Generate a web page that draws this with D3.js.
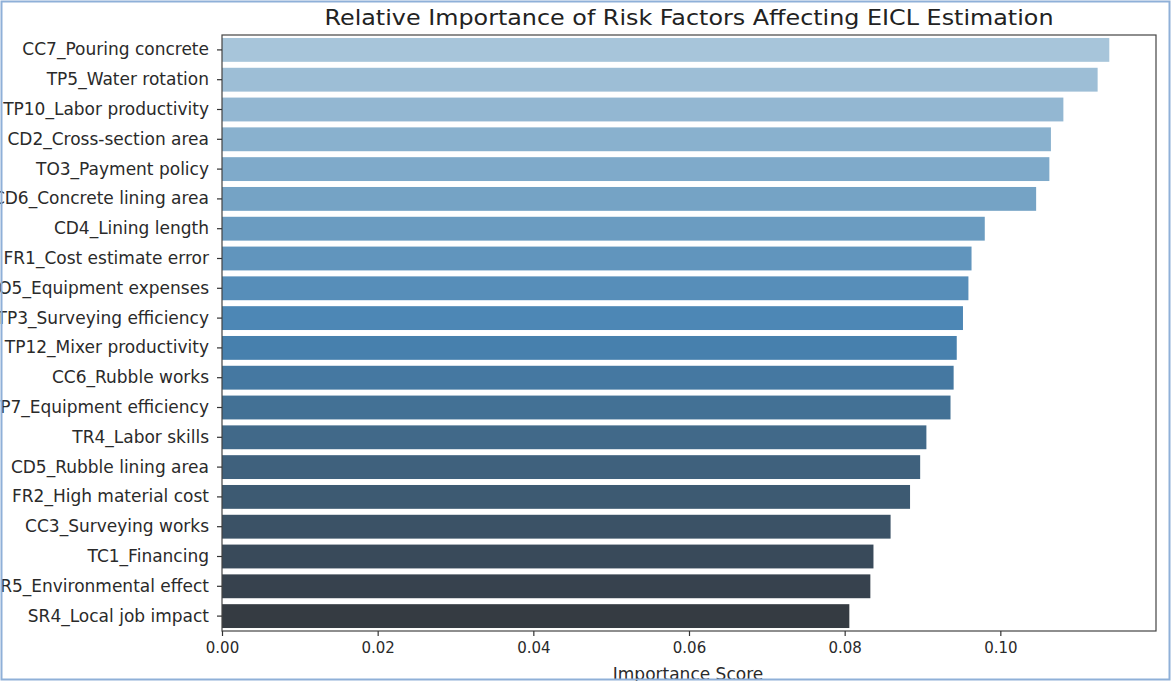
<!DOCTYPE html>
<html>
<head>
<meta charset="utf-8">
<script src="https://cdn.jsdelivr.net/npm/d3@7"></script>
<style>
  html, body { margin: 0; padding: 0; background: #fff; }
  svg { display: block; font-family: "DejaVu Sans", sans-serif; }
</style>
</head>
<body>
<svg id="chart" width="1172" height="683"></svg>
<script>
// factor names, top to bottom
const factors = [
    'CC7_Pouring concrete', 'TP5_Water rotation', 'TP10_Labor productivity',
    'CD2_Cross-section area', 'TO3_Payment policy', 'CD6_Concrete lining area',
    'CD4_Lining length', 'FR1_Cost estimate error', 'TO5_Equipment expenses',
    'TP3_Surveying efficiency', 'TP12_Mixer productivity', 'CC6_Rubble works',
    'TP7_Equipment efficiency', 'TR4_Labor skills', 'CD5_Rubble lining area',
    'FR2_High material cost', 'CC3_Surveying works', 'TC1_Financing',
    'SR5_Environmental effect', 'SR4_Local job impact'
];
// importance scores
const scores = [
    0.1140, 0.1125, 0.1081, 0.1065, 0.1063, 0.1046,
    0.0980, 0.0963, 0.0959, 0.0952, 0.0944, 0.0940,
    0.0936, 0.0905, 0.0897, 0.0884, 0.0859, 0.0837,
    0.0833, 0.0806
];
const xTicks = [0, 0.02, 0.04, 0.06, 0.08, 0.10];

const TITLE = 'Relative Importance of Risk Factors Affecting EICL Estimation';
const X_LABEL = 'Importance Score';

// plot box
const plotLeft = 222, plotRight = 1156, plotTop = 35, plotBottom = 631;

const svg = d3.select('#chart');

// seaborn "Blues_d" like ramp: light blue -> mid blue -> dark gray
const ramp = d3.piecewise(d3.interpolateRgb, ['#b1ccde', '#4884b3', '#333336']);
const colorOf = i => ramp((i + 1) / (factors.length + 1));

const x = d3.scaleLinear().domain([0, 0.12]).range([plotLeft, plotRight]);
const y = d3.scaleBand().domain(factors).range([plotTop, plotBottom]).paddingInner(0.2).paddingOuter(0.1);

const data = factors.map((f, i) => ({ name: f, value: scores[i], idx: i }));

svg.append('g')
    .selectAll('rect')
    .data(data)
    .enter()
    .append('rect')
        .attr('x', x(0))
        .attr('y', d => y(d.name))
        .attr('width', d => x(d.value) - x(0))
        .attr('height', y.bandwidth())
        .attr('fill', d => colorOf(d.idx));

// frame of the axes
svg.append('rect')
    .attr('x', plotLeft).attr('y', plotTop)
    .attr('width', plotRight - plotLeft).attr('height', plotBottom - plotTop)
    .attr('fill', 'none')
    .attr('stroke', '#444')
    .attr('stroke-width', 1.2);

// x axis
const xAxis = svg.append('g')
    .attr('transform', `translate(0,${plotBottom})`)
    .call(d3.axisBottom(x).tickValues(xTicks).tickFormat(d3.format('.2f')).tickSize(5).tickPadding(6));
xAxis.select('.domain').remove();
xAxis.selectAll('line').attr('stroke', '#333').attr('stroke-width', 1.2);
xAxis.selectAll('text').attr('font-size', 15).attr('fill', '#2a2a2a')
    .attr('font-family', '"DejaVu Sans", sans-serif');

// y axis
const yAxis = svg.append('g')
    .attr('transform', `translate(${plotLeft},0)`)
    .call(d3.axisLeft(y).tickSize(5).tickPadding(8));
yAxis.select('.domain').remove();
yAxis.selectAll('line').attr('stroke', '#333').attr('stroke-width', 1.2);
yAxis.selectAll('text').attr('font-size', 17).attr('fill', '#2a2a2a')
    .attr('font-family', '"DejaVu Sans", sans-serif');

// title
svg.append('text')
    .attr('x', (plotLeft + plotRight) / 2)
    .attr('y', 25)
    .attr('text-anchor', 'middle')
    .attr('font-size', 22)
    .attr('textLength', 729)
    .attr('lengthAdjust', 'spacingAndGlyphs')
    .attr('fill', '#222')
    .text(TITLE);

// x label
svg.append('text')
    .attr('x', 688)
    .attr('y', 680)
    .attr('text-anchor', 'middle')
    .attr('font-size', 17)
    .attr('fill', '#2a2a2a')
    .text(X_LABEL);

// outer picture frame
svg.append('rect')
    .attr('x', 1.5).attr('y', 1.5)
    .attr('width', 1168).attr('height', 678)
    .attr('fill', 'none')
    .attr('stroke', '#8fb0d8')
    .attr('stroke-width', 2);
// white strip below the frame hides the clipped label part
svg.append('rect')
    .attr('x', 0).attr('y', 681)
    .attr('width', 1172).attr('height', 2)
    .attr('fill', '#fff');
</script>
</body>
</html>
